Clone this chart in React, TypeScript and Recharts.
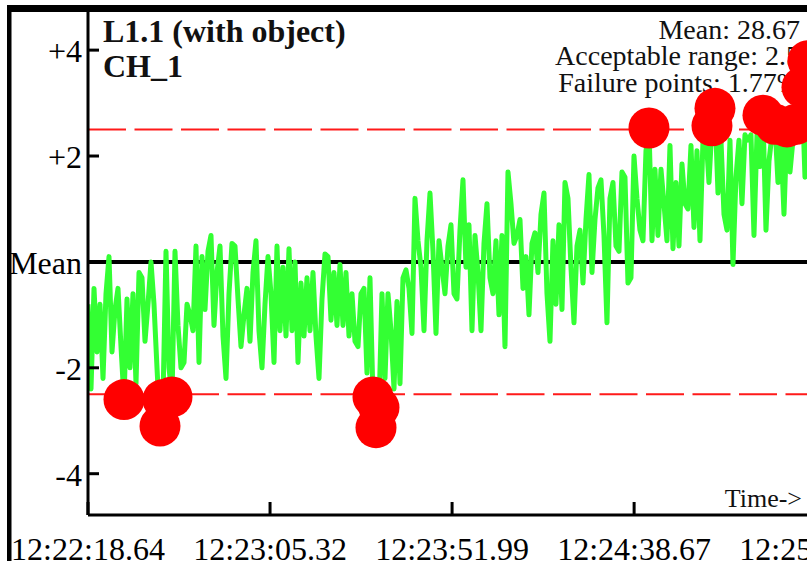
import React from 'react';
import { ComposedChart, Line, Scatter, XAxis, YAxis, ReferenceLine } from 'recharts';

// deviation from mean, one sample every ~0.77 s in four stretches
const devA = [
  -0.8, -2.4, -0.5, -1.7, -0.8, -2.2, -0.6, 0.1, -1.7, -0.9,
  -0.5, -1.6, -2.6, -0.7, -2.0, -0.6, -2.3, -0.2, -0.3, -1.5,
  -0.8, 0.0, -0.8, -2.0, -3.1, -2.6, 0.2, -2.0, -2.55, 0.2,
  -1.2, -2.0, -1.9, -0.8, -1.0, -1.3, 0.3, -1.9, 0.1, -0.9,
  0.2, 0.5, -1.2, -0.2, 0.3, -1.4, -2.2, -0.6, 0.35, 0.3,
  -0.7, -1.6, -1.0, -0.5, -1.5, -0.2, 0.4, -1.3, -2.0, -0.8,
  0.1,
];
const devB = [
  -0.6, -1.9, 0.3, -1.3, -0.1, -1.4, 0.25, -1.3, 0.0, -1.9,
  -0.4, -1.4, -0.3, -1.3, -0.2, -1.4, -2.2, -0.7, 0.15, 0.1,
  -1.1, -0.2, -1.2, -0.05, -1.2, -0.2, -1.4, -0.6, -1.5, -1.6,
  -0.6, -0.5, -2.1, -0.3, -2.55, -3.13, -2.75, -0.6, -2.2, -0.6,
  -1.3, -2.4, -0.75, -2.3, -0.3, -0.15, -0.5, -1.35, 1.2, 0.4,
  -0.1, -1.3, 0.4, 1.3, 0.2, -1.35, 0.4, -0.1, -0.6, 0.3,
  0.7,
];
const devC = [
  -0.6, -0.7, 0.6, 1.55, -0.1, 0.7, -1.3, 0.5, -0.2, -1.3,
  0.35, 1.1, -0.3, -0.6, 0.4, -1.0, 0.5, -1.6, 1.7, 1.1,
  0.35, 0.5, 0.8, -0.5, 0.1, -1.0, 0.35, 0.55, -0.2, 0.9,
  1.3, -0.6, -1.5, 0.4, -0.8, 0.7, -0.9, 1.5, 1.2, -0.1,
  -1.15, 0.3, 0.6, -0.4, 0.8, 1.65, -0.2, 0.8, 1.4, 1.55,
  0.5, -1.15, 1.2, 1.5, 0.3, 0.2, 1.7, 1.6, -0.4, -0.3,
  2.0,
];
const devD = [
  1.2, 0.6, 0.4, 2.1, 2.53, 0.4, 1.75, 0.5, 1.75, 1.1,
  0.4, 2.2, 0.25, 1.5, 0.3, 1.85, 1.1, 1.0, 2.2, 0.65,
  2.1, 0.4, 2.3, 2.4, 1.5, 2.57, 2.9, 1.3, 2.3, 0.9,
  0.6, 2.3, -0.05, 1.6, 2.3, 1.1, 2.4, 2.3, 2.4, 0.5,
  2.4, 1.8, 2.77, 0.6, 1.9, 2.4, 2.6, 1.5, 2.3, 0.9,
  2.55, 1.7, 2.3, 2.6, 2.4, 3.3, 1.6, 3.8, 2.2,
];

const sampleSec = 0.7692;
const timeTicks = [0, 46.677, 93.353, 140.03, 186.707];
const timeLabels = ['12:22:18.64', '12:23:05.32', '12:23:51.99', '12:24:38.67', '12:25:25.35'];
const devTicks = [4, 2, 0, -2, -4];
const devLabels = ['+4', '+2', 'Mean', '-2', '-4'];
const limit = 2.5;

const series = [...devA, ...devB, ...devC, ...devD].map((v, i) => ({ t: i * sampleSec, v }));
const failures = series.filter((d) => Math.abs(d.v) > limit);

const FONT = "'Liberation Serif', serif";

function TimeTick({ x, y, payload }: any) {
  const idx = timeTicks.findIndex((t) => Math.abs(t - payload.value) < 0.01);
  return (
    <g>
      <line x1={x} y1={y} x2={x} y2={y - 13} stroke="#000" strokeWidth={3} />
      <text x={x} y={y + 45} textAnchor="middle" fontSize={32} fontFamily={FONT} fill="#000">
        {timeLabels[idx]}
      </text>
    </g>
  );
}

function DevTick({ x, y, payload }: any) {
  const idx = devTicks.indexOf(payload.value);
  return (
    <g>
      <line x1={x} y1={y} x2={x + 11} y2={y} stroke="#000" strokeWidth={3} />
      <text x={x - 6} y={y + 12} textAnchor="end" fontSize={32} fontFamily={FONT} fill="#000">
        {devLabels[idx]}
      </text>
    </g>
  );
}

const FailDot = (props: any) => <circle cx={props.cx} cy={props.cy} r={20.5} fill="#ff0000" />;

export default function App() {
  return (
    <div style={{ position: 'absolute', left: 0, top: 0, width: 807, height: 561, overflow: 'hidden', background: '#fff' }}>
      <svg width={807} height={561} style={{ position: 'absolute', left: 0, top: 0 }}>
        <rect x={7} y={5} width={4.5} height={556} fill="#000" />
        <rect x={7} y={5} width={800} height={7} fill="#000" />
        <text x={103} y={42} fontSize={32} fontWeight="bold" fontFamily={FONT} fill="#111">L1.1 (with object)</text>
        <text x={103} y={77} fontSize={32} fontWeight="bold" fontFamily={FONT} fill="#111">CH_1</text>
        <g fontSize={28} fontFamily={FONT} fill="#111" textAnchor="end">
          <text x={800} y={39}>Mean: 28.67</text>
          <text x={800} y={65}>Acceptable range: 2.5</text>
          <text x={800} y={92}>Failure points: 1.77%</text>
        </g>
        <text x={802} y={507} fontSize={26} fontFamily={FONT} fill="#111" textAnchor="end">Time-&gt;</text>
      </svg>
      <div style={{ position: 'absolute', left: 0, top: 0 }}>
        <ComposedChart width={829} height={561} data={series} margin={{ top: 12, right: 0, bottom: 0, left: 0 }}>
          <XAxis
            dataKey="t"
            type="number"
            domain={[0, 190]}
            ticks={timeTicks}
            interval={0}
            allowDataOverflow
            height={46}
            tickSize={0}
            tickMargin={0}
            tickLine={false}
            axisLine={{ stroke: '#000', strokeWidth: 3 }}
            tick={<TimeTick />}
          />
          <YAxis
            type="number"
            domain={[-4.78, 4.72]}
            ticks={devTicks}
            interval={0}
            allowDataOverflow
            width={88}
            tickSize={0}
            tickMargin={0}
            tickLine={false}
            axisLine={{ stroke: '#000', strokeWidth: 3 }}
            tick={<DevTick />}
          />
          <ReferenceLine y={limit} stroke="#ff1a1a" strokeWidth={2} strokeDasharray="38 8.5" />
          <ReferenceLine y={-limit} stroke="#ff1a1a" strokeWidth={2} strokeDasharray="38 8.5" />
          <ReferenceLine y={0} stroke="#000" strokeWidth={4} />
          <Line
            type="linear"
            dataKey="v"
            stroke="#33ff33"
            strokeWidth={5}
            strokeLinejoin="round"
            dot={false}
            isAnimationActive={false}
          />
          <Scatter data={failures} dataKey="v" shape={FailDot} isAnimationActive={false} />
        </ComposedChart>
      </div>
    </div>
  );
}
